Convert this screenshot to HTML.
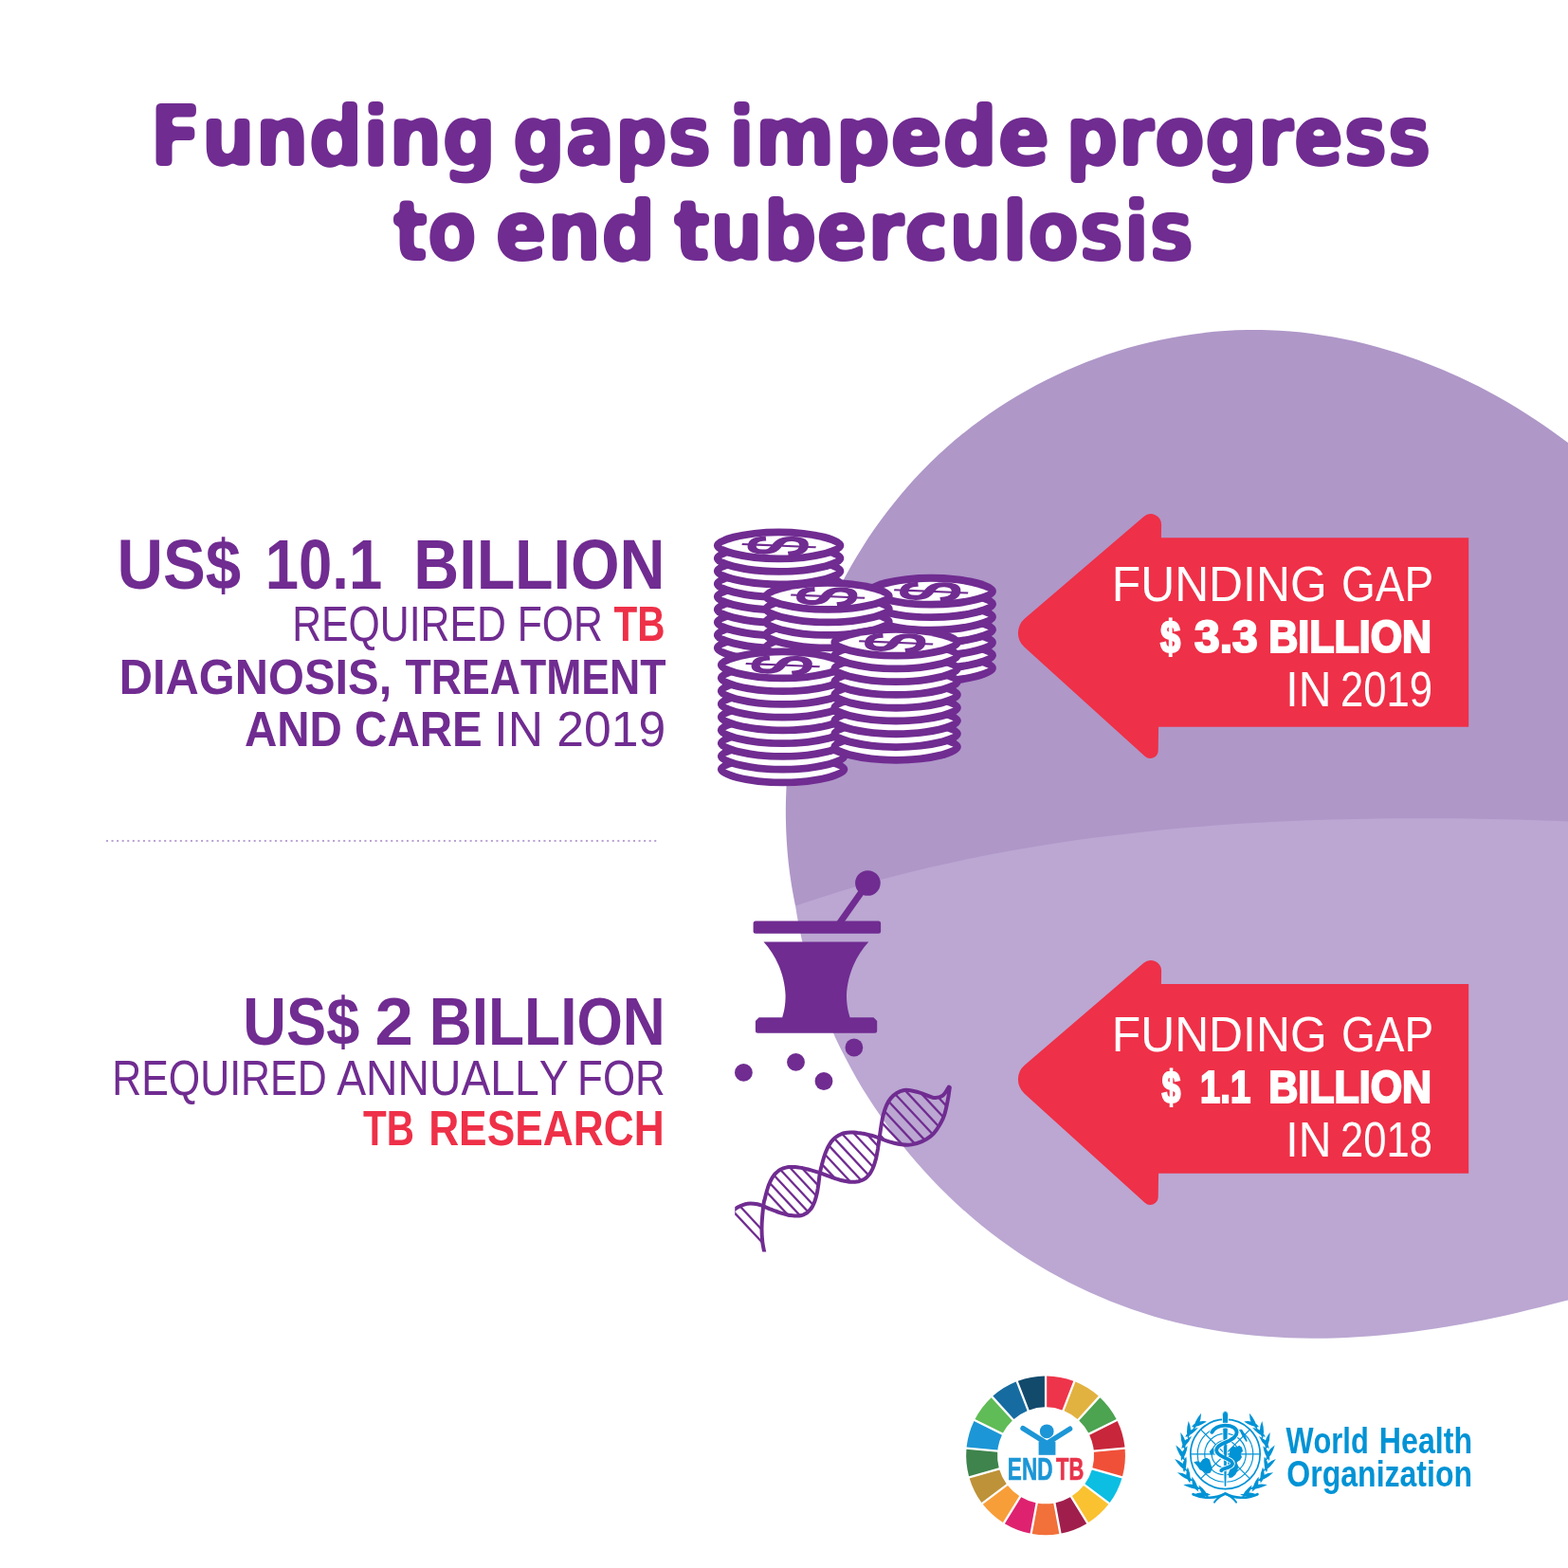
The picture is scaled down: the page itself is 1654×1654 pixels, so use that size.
<!DOCTYPE html>
<html lang="en"><head><meta charset="utf-8"><title>Funding gaps impede progress to end tuberculosis</title>
<style>html,body{margin:0;padding:0;background:#fff;width:1654px;height:1654px;overflow:hidden}svg{display:block}text{font-kerning:none;white-space:pre}</style></head><body>
<svg width="1654" height="1654" viewBox="0 0 1654 1654">
<rect width="1654" height="1654" fill="#fff"/>
<path d="M839.0 955.5C838.3 951.7 836.0 940.4 834.8 932.8C833.6 925.2 832.6 917.5 831.7 909.9C830.9 902.2 830.2 894.5 829.8 886.9C829.3 879.2 829.0 871.5 828.9 863.8C828.8 856.1 828.8 848.4 829.1 840.7C829.3 833.0 829.7 825.2 830.3 817.6C830.9 809.9 831.7 802.2 832.6 794.5C833.5 786.9 834.6 779.2 835.9 771.6C837.2 764.0 838.6 756.4 840.2 748.9C841.8 741.3 843.6 733.8 845.5 726.3C847.5 718.8 849.6 711.4 851.8 704.0C854.1 696.6 856.5 689.2 859.1 682.0C861.6 674.7 864.4 667.4 867.3 660.3C870.2 653.1 873.2 646.0 876.4 639.0C879.6 632.0 883.0 625.0 886.5 618.1C890.0 611.2 893.6 604.4 897.4 597.7C901.2 591.0 905.2 584.4 909.3 577.9C913.4 571.3 917.6 564.9 922.0 558.6C926.4 552.2 930.9 546.0 935.6 539.9C940.3 533.8 945.1 527.8 950.0 521.9C955.0 516.0 960.0 510.2 965.3 504.5C970.5 498.9 975.8 493.4 981.3 488.0C986.8 482.6 992.4 477.3 998.2 472.2C1003.9 467.1 1009.8 462.1 1015.8 457.3C1021.8 452.4 1027.9 447.7 1034.2 443.2C1040.4 438.6 1046.7 434.2 1053.2 430.0C1059.6 425.7 1066.2 421.6 1072.8 417.7C1079.5 413.8 1086.2 410.0 1093.1 406.3C1099.9 402.7 1106.8 399.2 1113.8 395.9C1120.8 392.6 1127.9 389.4 1135.0 386.5C1142.1 383.5 1149.3 380.6 1156.6 378.0C1163.9 375.3 1171.2 372.8 1178.6 370.5C1186.0 368.2 1193.4 366.1 1200.9 364.1C1208.3 362.1 1215.9 360.3 1223.4 358.7C1231.0 357.1 1238.5 355.6 1246.1 354.4C1253.8 353.1 1261.4 352.1 1269.0 351.2C1276.7 350.3 1284.4 349.6 1292.0 349.1C1299.7 348.6 1307.4 348.2 1315.1 348.1C1322.7 348.0 1330.4 348.0 1338.1 348.3C1345.8 348.5 1353.4 349.0 1361.1 349.6C1368.7 350.2 1376.4 351.0 1384.0 352.0C1391.6 353.0 1399.2 354.2 1406.8 355.5C1414.3 356.9 1421.9 358.4 1429.4 360.1C1436.9 361.8 1444.4 363.6 1451.8 365.7C1459.2 367.7 1466.6 369.9 1474.0 372.2C1481.3 374.6 1488.7 377.1 1495.9 379.7C1503.2 382.4 1510.4 385.2 1517.5 388.2C1524.7 391.1 1531.8 394.2 1538.8 397.5C1545.8 400.7 1552.8 404.1 1559.7 407.6C1566.6 411.1 1573.4 414.8 1580.1 418.6C1586.9 422.4 1593.6 426.3 1600.2 430.3C1606.8 434.4 1613.3 438.5 1619.7 442.8C1626.2 447.1 1632.6 451.5 1638.9 455.9C1645.2 460.4 1651.4 465.0 1657.6 469.6C1663.8 474.3 1669.9 479.1 1675.9 483.9C1681.9 488.7 1687.9 493.6 1693.8 498.6C1699.7 503.6 1705.5 508.6 1711.2 513.7C1717.0 518.8 1722.6 524.0 1728.2 529.2C1733.8 534.4 1742.1 542.3 1744.9 544.9L1745 905L1100 945L847.0 957.5Z" fill="#af97c8"/>
<path d="M839.0 955.5C846.6 953.0 869.4 945.4 884.7 940.7C900.0 936.0 915.4 931.6 930.8 927.5C946.2 923.3 961.7 919.4 977.2 915.7C992.8 912.1 1008.4 908.6 1024.0 905.4C1039.6 902.2 1055.3 899.2 1071.0 896.4C1086.7 893.7 1102.4 891.1 1118.2 888.7C1134.0 886.3 1149.8 884.2 1165.6 882.2C1181.5 880.2 1197.3 878.4 1213.2 876.7C1229.1 875.1 1245.0 873.6 1261.0 872.3C1276.9 871.0 1292.8 869.9 1308.8 868.8C1324.8 867.8 1340.7 867.0 1356.7 866.2C1372.7 865.5 1388.7 864.9 1404.7 864.5C1420.7 864.0 1436.7 863.7 1452.7 863.4C1468.7 863.2 1484.7 863.1 1500.7 863.2C1516.7 863.2 1532.7 863.3 1548.6 863.5C1564.6 863.8 1580.6 864.1 1596.6 864.6C1612.5 865.0 1628.5 865.5 1644.4 866.1C1660.4 866.8 1676.3 867.5 1692.2 868.3C1708.1 869.0 1731.9 870.4 1739.8 870.9L1739.4 1346.3C1735.7 1347.5 1724.4 1351.0 1716.8 1353.3C1709.3 1355.6 1701.7 1357.9 1694.0 1360.1C1686.4 1362.4 1678.7 1364.6 1670.9 1366.7C1663.2 1368.9 1655.5 1371.0 1647.7 1373.1C1639.9 1375.1 1632.1 1377.1 1624.2 1379.1C1616.4 1381.0 1608.5 1382.9 1600.6 1384.7C1592.7 1386.6 1584.8 1388.3 1576.9 1390.0C1568.9 1391.7 1561.0 1393.3 1553.0 1394.8C1545.0 1396.3 1537.0 1397.7 1529.0 1399.1C1521.0 1400.4 1512.9 1401.7 1504.9 1402.8C1496.9 1404.0 1488.8 1405.0 1480.7 1406.0C1472.7 1406.9 1464.6 1407.8 1456.5 1408.5C1448.4 1409.2 1440.3 1409.8 1432.2 1410.3C1424.2 1410.8 1416.1 1411.2 1408.0 1411.4C1399.9 1411.7 1391.8 1411.8 1383.7 1411.7C1375.6 1411.7 1367.5 1411.5 1359.4 1411.2C1351.3 1410.9 1343.3 1410.4 1335.2 1409.8C1327.2 1409.2 1319.1 1408.4 1311.1 1407.5C1303.1 1406.6 1295.1 1405.5 1287.2 1404.3C1279.2 1403.0 1271.3 1401.6 1263.4 1400.0C1255.5 1398.4 1247.6 1396.7 1239.8 1394.8C1232.0 1392.8 1224.3 1390.7 1216.6 1388.4C1208.9 1386.1 1201.2 1383.7 1193.6 1381.0C1186.0 1378.4 1178.5 1375.6 1171.0 1372.6C1163.6 1369.6 1156.2 1366.4 1148.9 1363.1C1141.5 1359.8 1134.3 1356.2 1127.1 1352.6C1120.0 1348.9 1112.9 1345.1 1105.9 1341.1C1098.9 1337.1 1092.0 1332.9 1085.2 1328.6C1078.4 1324.3 1071.7 1319.8 1065.1 1315.1C1058.5 1310.5 1052.0 1305.7 1045.6 1300.7C1039.2 1295.8 1033.0 1290.7 1026.8 1285.5C1020.6 1280.3 1014.6 1274.9 1008.6 1269.4C1002.7 1263.9 996.9 1258.2 991.2 1252.5C985.5 1246.7 979.9 1240.8 974.5 1234.8C969.1 1228.8 963.8 1222.7 958.6 1216.5C953.4 1210.2 948.4 1203.9 943.5 1197.5C938.6 1191.0 933.8 1184.5 929.2 1177.8C924.5 1171.2 920.1 1164.4 915.7 1157.6C911.4 1150.8 907.2 1143.9 903.2 1136.9C899.2 1129.9 895.3 1122.8 891.6 1115.6C887.9 1108.4 884.3 1101.2 880.9 1093.9C877.5 1086.5 874.3 1079.1 871.3 1071.7C868.2 1064.2 865.3 1056.7 862.6 1049.1C859.9 1041.5 857.4 1033.9 855.1 1026.2C852.7 1018.5 850.6 1010.7 848.6 1002.9C846.6 995.1 844.8 987.2 843.2 979.3C841.6 971.4 839.7 959.5 839.0 955.5Z" fill="#bba7d2"/>
<defs><filter id="rnd" x="-5%" y="-20%" width="110%" height="140%" color-interpolation-filters="sRGB"><feGaussianBlur in="SourceAlpha" stdDeviation="2.4" result="b"/><feComponentTransfer in="b" result="t"><feFuncA type="linear" slope="7" intercept="-3"/></feComponentTransfer><feFlood flood-color="#702c91"/><feComposite operator="in" in2="t"/></filter></defs>
<g filter="url(#rnd)">
<text transform="translate(158.21 173.60) scale(1.0045 1)" font-family="DejaVu Sans Condensed, sans-serif" font-weight="bold" font-size="88" fill="#702c91" stroke="#702c91" stroke-width="2.0" stroke-linejoin="round">Funding</text>
<text transform="translate(540.70 173.60) scale(0.9802 1)" font-family="DejaVu Sans Condensed, sans-serif" font-weight="bold" font-size="88" fill="#702c91" stroke="#702c91" stroke-width="2.0" stroke-linejoin="round">gaps</text>
<text transform="translate(768.46 173.60) scale(1.0266 1)" font-family="DejaVu Sans Condensed, sans-serif" font-weight="bold" font-size="88" fill="#702c91" stroke="#702c91" stroke-width="2.0" stroke-linejoin="round">impede</text>
<text transform="translate(1124.08 173.60) scale(0.9790 1)" font-family="DejaVu Sans Condensed, sans-serif" font-weight="bold" font-size="88" fill="#702c91" stroke="#702c91" stroke-width="2.0" stroke-linejoin="round">progress</text>
<text transform="translate(415.02 273.90) scale(0.9519 1)" font-family="DejaVu Sans Condensed, sans-serif" font-weight="bold" font-size="88" fill="#702c91" stroke="#702c91" stroke-width="2.0" stroke-linejoin="round">to</text>
<text transform="translate(522.45 273.90) scale(1.0163 1)" font-family="DejaVu Sans Condensed, sans-serif" font-weight="bold" font-size="88" fill="#702c91" stroke="#702c91" stroke-width="2.0" stroke-linejoin="round">end</text>
<text transform="translate(711.07 273.90) scale(0.9972 1)" font-family="DejaVu Sans Condensed, sans-serif" font-weight="bold" font-size="88" fill="#702c91" stroke="#702c91" stroke-width="2.0" stroke-linejoin="round">tuberculosis</text>
</g>
<text transform="translate(123.57 620.80) scale(0.9017 1)" font-family="Liberation Sans, sans-serif" font-weight="bold" font-size="74.5" fill="#702c91" >US$</text>
<text transform="translate(279.70 620.80) scale(0.8522 1)" font-family="Liberation Sans, sans-serif" font-weight="bold" font-size="74.5" fill="#702c91" >10.1</text>
<text transform="translate(436.37 620.80) scale(0.8897 1)" font-family="Liberation Sans, sans-serif" font-weight="bold" font-size="74.5" fill="#702c91" >BILLION</text>
<text transform="translate(308.19 676.40) scale(0.8286 1)" font-family="Liberation Sans, sans-serif" font-weight="normal" font-size="51.6" fill="#702c91" >REQUIRED FOR</text>
<text transform="translate(647.55 676.40) scale(0.7850 1)" font-family="Liberation Sans, sans-serif" font-weight="bold" font-size="51.6" fill="#ee3048" >TB</text>
<text transform="translate(125.73 731.70) scale(0.9461 1)" font-family="Liberation Sans, sans-serif" font-weight="bold" font-size="51.6" fill="#702c91" >DIAGNOSIS,</text>
<text transform="translate(427.60 731.70) scale(0.8639 1)" font-family="Liberation Sans, sans-serif" font-weight="bold" font-size="51.6" fill="#702c91" >TREATMENT</text>
<text transform="translate(257.92 787.40) scale(0.9214 1)" font-family="Liberation Sans, sans-serif" font-weight="bold" font-size="51.6" fill="#702c91" >AND CARE</text>
<text transform="translate(521.34 787.40) scale(1.0005 1)" font-family="Liberation Sans, sans-serif" font-weight="normal" font-size="51.6" fill="#702c91" >IN 2019</text>
<line x1="112" y1="887" x2="694" y2="887" stroke="#b9a2d4" stroke-width="2" stroke-dasharray="2 3.56"/>
<text transform="translate(256.20 1101.90) scale(0.9113 1)" font-family="Liberation Sans, sans-serif" font-weight="bold" font-size="69.5" fill="#702c91" >US$</text>
<text transform="translate(395.48 1101.90) scale(1.0460 1)" font-family="Liberation Sans, sans-serif" font-weight="bold" font-size="69.5" fill="#702c91" >2</text>
<text transform="translate(452.83 1101.90) scale(0.8960 1)" font-family="Liberation Sans, sans-serif" font-weight="bold" font-size="69.5" fill="#702c91" >BILLION</text>
<text transform="translate(118.28 1154.80) scale(0.8311 1)" font-family="Liberation Sans, sans-serif" font-weight="normal" font-size="51.6" fill="#702c91" >REQUIRED</text>
<text transform="translate(355.21 1154.80) scale(0.8975 1)" font-family="Liberation Sans, sans-serif" font-weight="normal" font-size="51.6" fill="#702c91" >ANNUALLY</text>
<text transform="translate(609.10 1154.80) scale(0.8505 1)" font-family="Liberation Sans, sans-serif" font-weight="normal" font-size="51.6" fill="#702c91" >FOR</text>
<text transform="translate(382.95 1207.80) scale(0.7850 1)" font-family="Liberation Sans, sans-serif" font-weight="bold" font-size="51.6" fill="#ee3048" >TB</text>
<text transform="translate(452.14 1207.80) scale(0.8583 1)" font-family="Liberation Sans, sans-serif" font-weight="bold" font-size="51.6" fill="#ee3048" >RESEARCH</text>
<path d="M1080.48 682.56A20.00 20.00 0 0 1 1080.89 652.55L1206.43 544.92A11.30 11.30 0 0 1 1225.09 553.66L1224.90 567.20L1549.20 567.20L1549.20 766.80L1222.08 766.80L1221.73 791.69A8.40 8.40 0 0 1 1207.69 797.80Z" fill="#ee3048"/>
<path d="M1080.48 1153.41A20.00 20.00 0 0 1 1080.89 1123.40L1206.43 1015.77A11.30 11.30 0 0 1 1225.09 1024.51L1224.90 1038.05L1549.20 1038.05L1549.20 1237.65L1222.08 1237.65L1221.73 1262.54A8.40 8.40 0 0 1 1207.69 1268.65Z" fill="#ee3048"/>
<text transform="translate(1172.71 633.70) scale(0.9658 1)" font-family="Liberation Sans, sans-serif" font-weight="normal" font-size="51.6" fill="#ffffff" >FUNDING</text>
<text transform="translate(1414.99 633.70) scale(0.8914 1)" font-family="Liberation Sans, sans-serif" font-weight="normal" font-size="51.6" fill="#ffffff" >GAP</text>
<text transform="translate(1223.90 687.90) scale(0.7860 1)" font-family="Liberation Sans, sans-serif" font-weight="bold" font-size="48.6" fill="#ffffff" stroke="#fff" stroke-width="2.2" stroke-linejoin="miter">$</text>
<text transform="translate(1260.00 687.90) scale(0.9863 1)" font-family="Liberation Sans, sans-serif" font-weight="bold" font-size="48.6" fill="#ffffff" stroke="#fff" stroke-width="2.2" stroke-linejoin="miter">3.3</text>
<text transform="translate(1338.33 687.90) scale(0.8842 1)" font-family="Liberation Sans, sans-serif" font-weight="bold" font-size="48.6" fill="#ffffff" stroke="#fff" stroke-width="2.2" stroke-linejoin="miter">BILLION</text>
<text transform="translate(1356.25 745.10) scale(0.9336 1)" font-family="Liberation Sans, sans-serif" font-weight="normal" font-size="51.6" fill="#ffffff" >IN</text>
<text transform="translate(1414.00 745.10) scale(0.8465 1)" font-family="Liberation Sans, sans-serif" font-weight="normal" font-size="51.6" fill="#ffffff" >2019</text>
<text transform="translate(1172.71 1108.70) scale(0.9658 1)" font-family="Liberation Sans, sans-serif" font-weight="normal" font-size="51.6" fill="#ffffff" >FUNDING</text>
<text transform="translate(1414.99 1108.70) scale(0.8914 1)" font-family="Liberation Sans, sans-serif" font-weight="normal" font-size="51.6" fill="#ffffff" >GAP</text>
<text transform="translate(1225.53 1162.90) scale(0.7354 1)" font-family="Liberation Sans, sans-serif" font-weight="bold" font-size="48.6" fill="#ffffff" stroke="#fff" stroke-width="2.2" stroke-linejoin="miter">$</text>
<text transform="translate(1266.09 1162.90) scale(0.7871 1)" font-family="Liberation Sans, sans-serif" font-weight="bold" font-size="48.6" fill="#ffffff" stroke="#fff" stroke-width="2.2" stroke-linejoin="miter">1.1</text>
<text transform="translate(1338.33 1162.90) scale(0.8842 1)" font-family="Liberation Sans, sans-serif" font-weight="bold" font-size="48.6" fill="#ffffff" stroke="#fff" stroke-width="2.2" stroke-linejoin="miter">BILLION</text>
<text transform="translate(1356.25 1220.10) scale(0.9336 1)" font-family="Liberation Sans, sans-serif" font-weight="normal" font-size="51.6" fill="#ffffff" >IN</text>
<text transform="translate(1414.01 1220.10) scale(0.8449 1)" font-family="Liberation Sans, sans-serif" font-weight="normal" font-size="51.6" fill="#ffffff" >2018</text>
<defs><g id="coin"><ellipse cx="0" cy="0" rx="68.7" ry="17.85" fill="#702c91"/><path d="M-60.5 0C-32 -13.4 32 -13.4 60.5 0C32 13.4 -32 13.4 -60.5 0Z" fill="#fff"/></g></defs>
<use href="#coin" x="821.6" y="683.40"/><use href="#coin" x="821.6" y="669.90"/><use href="#coin" x="821.6" y="656.40"/><use href="#coin" x="821.6" y="642.90"/><use href="#coin" x="821.6" y="629.40"/><use href="#coin" x="821.6" y="615.90"/><use href="#coin" x="821.6" y="602.40"/><use href="#coin" x="821.6" y="588.90"/><use href="#coin" x="821.6" y="575.40"/><text transform="translate(821.6 575.7) scale(1 0.41) rotate(-84)" x="0" y="32.1" text-anchor="middle" font-family="Liberation Sans, sans-serif" font-weight="bold" font-size="96" fill="#702c91">$</text>
<use href="#coin" x="982.2" y="704.70"/><use href="#coin" x="982.2" y="691.20"/><use href="#coin" x="982.2" y="677.70"/><use href="#coin" x="982.2" y="664.20"/><use href="#coin" x="982.2" y="650.70"/><use href="#coin" x="982.2" y="637.20"/><use href="#coin" x="982.2" y="623.70"/><text transform="translate(982.2 624.0) scale(1 0.41) rotate(-84)" x="0" y="32.1" text-anchor="middle" font-family="Liberation Sans, sans-serif" font-weight="bold" font-size="96" fill="#702c91">$</text>
<use href="#coin" x="873.0" y="696.40"/><use href="#coin" x="873.0" y="682.90"/><use href="#coin" x="873.0" y="669.40"/><use href="#coin" x="873.0" y="655.90"/><use href="#coin" x="873.0" y="642.40"/><use href="#coin" x="873.0" y="628.90"/><text transform="translate(873.0 629.2) scale(1 0.41) rotate(-84)" x="0" y="32.1" text-anchor="middle" font-family="Liberation Sans, sans-serif" font-weight="bold" font-size="96" fill="#702c91">$</text>
<use href="#coin" x="825.6" y="811.48"/><use href="#coin" x="825.6" y="797.72"/><use href="#coin" x="825.6" y="783.96"/><use href="#coin" x="825.6" y="770.20"/><use href="#coin" x="825.6" y="756.44"/><use href="#coin" x="825.6" y="742.68"/><use href="#coin" x="825.6" y="728.92"/><use href="#coin" x="825.6" y="715.16"/><use href="#coin" x="825.6" y="701.40"/><text transform="translate(825.6 701.7) scale(1 0.41) rotate(-84)" x="0" y="32.1" text-anchor="middle" font-family="Liberation Sans, sans-serif" font-weight="bold" font-size="96" fill="#702c91">$</text>
<use href="#coin" x="945.1" y="787.86"/><use href="#coin" x="945.1" y="774.09"/><use href="#coin" x="945.1" y="760.32"/><use href="#coin" x="945.1" y="746.55"/><use href="#coin" x="945.1" y="732.78"/><use href="#coin" x="945.1" y="719.01"/><use href="#coin" x="945.1" y="705.24"/><use href="#coin" x="945.1" y="691.47"/><use href="#coin" x="945.1" y="677.70"/><text transform="translate(945.1 678.0) scale(1 0.41) rotate(-84)" x="0" y="32.1" text-anchor="middle" font-family="Liberation Sans, sans-serif" font-weight="bold" font-size="96" fill="#702c91">$</text>
<g fill="#702c91">
<circle cx="915.4" cy="931.5" r="13.3"/>
<line x1="915.4" y1="931.5" x2="884" y2="976" stroke="#702c91" stroke-width="6.8"/>
<rect x="794.6" y="971.5" width="134.5" height="13.3" rx="2.5"/>
<path d="M805.5 993.4L916.3 993.4C902.5 1008 893.6 1030 893 1050C893 1060 894.6 1067 896.6 1073.2L921.5 1073.2L925.2 1077L925.2 1087.3Q925.2 1089.8 922.7 1089.8L799.4 1089.8Q796.9 1089.8 796.9 1087.3L796.9 1077L800.6 1073.2L825.2 1073.2C827.2 1067 828.6 1060 828.6 1050C828 1030 819.2 1008 805.5 993.4Z"/>
<circle cx="900.9" cy="1105" r="9.4"/>
<circle cx="839.5" cy="1120.4" r="9.4"/>
<circle cx="784.4" cy="1131.4" r="9.4"/>
<circle cx="869" cy="1140.5" r="9.4"/>
</g>
<defs><clipPath id="dc"><rect x="775.2" y="1100" width="300" height="220.5"/></clipPath></defs>
<g clip-path="url(#dc)"><path d="M1001.8 1147.3C1001.4 1149.7 1000.8 1155.9 999.6 1161.4C998.4 1166.9 997.5 1174.1 994.5 1180.3C991.5 1186.5 987.4 1193.9 981.9 1198.4C976.4 1202.9 968.2 1206.2 961.5 1207.4C954.8 1208.6 948.1 1206.8 941.5 1205.3C934.9 1203.8 925.7 1199.7 921.6 1198.4C917.6 1197.1 918.7 1197.6 917.3 1197.3C915.9 1196.9 914.4 1196.6 913.0 1196.3C911.6 1196.0 910.2 1195.7 908.9 1195.5C907.5 1195.2 906.1 1195.0 904.8 1194.9C903.5 1194.7 902.2 1194.6 900.9 1194.5C899.7 1194.4 898.4 1194.4 897.2 1194.4C896.0 1194.5 894.8 1194.6 893.7 1194.7C892.5 1194.9 891.4 1195.1 890.4 1195.3C889.3 1195.6 888.3 1195.9 887.3 1196.3C886.3 1196.7 885.3 1197.2 884.4 1197.7C883.5 1198.2 882.6 1198.8 881.7 1199.5C880.9 1200.1 880.1 1200.8 879.3 1201.6C878.6 1202.4 877.8 1203.2 877.1 1204.1C876.4 1205.0 875.8 1206.0 875.1 1207.0C874.5 1208.0 873.9 1209.1 873.3 1210.2C872.8 1211.3 872.2 1212.5 871.7 1213.7C871.2 1214.9 870.7 1216.2 870.2 1217.5C869.8 1218.8 869.3 1220.1 868.9 1221.5C868.5 1222.8 868.1 1224.2 867.7 1225.7C867.3 1227.1 866.9 1228.5 866.6 1230.0C866.2 1231.4 865.8 1232.9 865.5 1234.4C865.1 1235.9 864.8 1237.4 864.6 1239.0C864.3 1240.6 864.2 1242.4 864.0 1244.0C863.8 1245.6 863.6 1247.3 863.4 1248.9C863.2 1250.5 862.9 1252.1 862.7 1253.6C862.4 1255.2 862.2 1256.7 861.9 1258.1C861.6 1259.6 861.2 1261.0 860.9 1262.4C860.5 1263.8 860.1 1265.1 859.7 1266.3C859.3 1267.6 858.8 1268.8 858.3 1269.9C857.8 1271.0 857.3 1272.1 856.7 1273.1C856.1 1274.1 855.5 1275.0 854.8 1275.8C854.1 1276.7 853.4 1277.4 852.6 1278.1C851.9 1278.8 851.1 1279.4 850.2 1279.9C849.4 1280.5 848.5 1280.9 847.5 1281.3C846.6 1281.6 845.6 1281.9 844.5 1282.2C843.5 1282.4 842.4 1282.5 841.3 1282.6C840.1 1282.6 839.0 1282.6 837.8 1282.5C836.6 1282.5 835.3 1282.3 834.0 1282.1C832.7 1281.9 831.4 1281.6 830.0 1281.3C828.7 1281.0 827.3 1280.6 825.9 1280.2C824.5 1279.8 823.0 1279.3 821.6 1278.8C820.1 1278.3 818.6 1277.7 817.1 1277.2C815.6 1276.6 813.7 1275.8 812.5 1275.4C811.4 1274.9 812.3 1275.3 810.1 1274.5C807.9 1273.6 802.8 1271.1 799.1 1270.3C795.4 1269.5 791.4 1269.2 788.1 1269.7C784.8 1270.1 781.9 1271.6 779.1 1273.1C776.3 1274.6 772.4 1277.8 771.1 1278.8" fill="none" stroke="#702c91" stroke-width="4.0" stroke-linecap="round" stroke-linejoin="round"/><path d="M1000.8 1146.5C999.8 1148.0 997.1 1153.7 994.5 1155.6C991.9 1157.5 989.3 1158.5 985.1 1158.0C980.9 1157.5 974.6 1153.7 969.4 1152.4C964.1 1151.1 958.6 1149.0 953.6 1150.0C948.6 1151.0 943.2 1154.2 939.5 1158.6C935.8 1163.0 933.7 1168.4 931.6 1176.5C929.5 1184.6 927.7 1201.1 926.7 1207.0C925.8 1213.0 926.2 1210.4 926.0 1212.0C925.7 1213.6 925.4 1215.2 925.1 1216.8C924.8 1218.4 924.5 1219.9 924.2 1221.4C923.8 1222.9 923.4 1224.4 923.0 1225.8C922.6 1227.2 922.2 1228.5 921.7 1229.8C921.2 1231.1 920.7 1232.3 920.2 1233.4C919.6 1234.6 919.0 1235.7 918.4 1236.7C917.8 1237.7 917.1 1238.7 916.4 1239.5C915.7 1240.4 914.9 1241.2 914.1 1241.9C913.3 1242.6 912.4 1243.2 911.5 1243.8C910.6 1244.4 909.7 1244.8 908.7 1245.2C907.7 1245.6 906.7 1245.9 905.6 1246.2C904.5 1246.4 903.4 1246.6 902.2 1246.7C901.0 1246.8 899.8 1246.8 898.5 1246.8C897.3 1246.7 896.0 1246.6 894.7 1246.4C893.3 1246.2 892.0 1246.0 890.6 1245.7C889.2 1245.4 887.7 1245.0 886.3 1244.7C884.8 1244.3 883.3 1243.8 881.8 1243.3C880.3 1242.8 878.7 1242.3 877.2 1241.8C875.6 1241.2 874.1 1240.7 872.5 1240.1C870.9 1239.5 869.3 1238.8 867.7 1238.2C866.2 1237.7 864.6 1237.1 863.2 1236.6C861.7 1236.1 860.3 1235.7 858.9 1235.3C857.5 1234.9 856.1 1234.5 854.7 1234.1C853.3 1233.7 851.9 1233.4 850.6 1233.1C849.2 1232.7 847.9 1232.4 846.5 1232.1C845.2 1231.9 843.9 1231.6 842.6 1231.5C841.4 1231.3 840.1 1231.1 838.9 1231.0C837.7 1230.9 836.5 1230.9 835.3 1230.9C834.2 1230.9 833.0 1231.0 831.9 1231.1C830.8 1231.2 829.8 1231.4 828.8 1231.6C827.7 1231.9 826.7 1232.2 825.8 1232.5C824.8 1232.9 823.9 1233.3 823.1 1233.8C822.2 1234.3 821.3 1234.9 820.6 1235.5C819.8 1236.1 819.0 1236.8 818.3 1237.6C817.5 1238.3 816.9 1239.1 816.2 1240.0C815.5 1240.9 814.9 1241.8 814.3 1242.8C813.8 1243.8 813.2 1244.8 812.7 1245.9C812.2 1247.0 811.7 1248.2 811.2 1249.4C810.7 1250.5 810.3 1251.8 809.9 1253.0C809.5 1254.3 809.1 1255.6 808.7 1257.0C808.3 1258.3 808.0 1259.7 807.6 1261.1C807.3 1262.5 806.9 1264.0 806.6 1265.3C806.3 1266.6 806.1 1265.9 805.7 1268.8C805.3 1271.6 804.6 1277.7 804.2 1282.3C803.8 1286.9 803.5 1291.6 803.5 1296.3C803.5 1300.9 803.8 1305.9 804.3 1310.3C804.8 1314.6 806.2 1320.3 806.6 1322.3" fill="none" stroke="#702c91" stroke-width="4.0" stroke-linecap="round" stroke-linejoin="round"/><line x1="998.5" y1="1166.9" x2="990.0" y2="1157.8" stroke="#702c91" stroke-width="2.3"/><line x1="995.2" y1="1178.5" x2="971.5" y2="1153.1" stroke="#702c91" stroke-width="2.3"/><line x1="990.2" y1="1188.2" x2="954.5" y2="1149.9" stroke="#702c91" stroke-width="2.3"/><line x1="983.9" y1="1196.5" x2="944.4" y2="1154.2" stroke="#702c91" stroke-width="2.3"/><line x1="975.5" y1="1202.6" x2="937.3" y2="1161.7" stroke="#702c91" stroke-width="2.3"/><line x1="965.1" y1="1206.6" x2="932.9" y2="1172.0" stroke="#702c91" stroke-width="2.3"/><line x1="951.8" y1="1207.4" x2="930.1" y2="1184.1" stroke="#702c91" stroke-width="2.3"/><line x1="933.4" y1="1202.8" x2="928.1" y2="1197.1" stroke="#702c91" stroke-width="2.3"/><line x1="914.6" y1="1196.6" x2="926.4" y2="1209.3" stroke="#702c91" stroke-width="2.3"/><line x1="899.7" y1="1194.5" x2="924.3" y2="1220.8" stroke="#702c91" stroke-width="2.3"/><line x1="888.3" y1="1196.0" x2="921.2" y2="1231.2" stroke="#702c91" stroke-width="2.3"/><line x1="880.1" y1="1200.9" x2="916.3" y2="1239.7" stroke="#702c91" stroke-width="2.3"/><line x1="874.3" y1="1208.4" x2="908.6" y2="1245.3" stroke="#702c91" stroke-width="2.3"/><line x1="870.2" y1="1217.7" x2="897.2" y2="1246.7" stroke="#702c91" stroke-width="2.3"/><line x1="867.0" y1="1228.1" x2="881.0" y2="1243.1" stroke="#702c91" stroke-width="2.3"/><line x1="863.2" y1="1250.6" x2="845.8" y2="1232.0" stroke="#702c91" stroke-width="2.3"/><line x1="861.1" y1="1261.5" x2="832.7" y2="1231.0" stroke="#702c91" stroke-width="2.3"/><line x1="857.8" y1="1271.0" x2="823.1" y2="1233.8" stroke="#702c91" stroke-width="2.3"/><line x1="852.4" y1="1278.3" x2="816.5" y2="1239.7" stroke="#702c91" stroke-width="2.3"/><line x1="844.0" y1="1282.3" x2="811.8" y2="1247.8" stroke="#702c91" stroke-width="2.3"/><line x1="831.2" y1="1281.6" x2="808.6" y2="1257.3" stroke="#702c91" stroke-width="2.3"/><line x1="780.5" y1="1272.3" x2="803.5" y2="1297.0" stroke="#702c91" stroke-width="2.3"/><line x1="773.0" y1="1277.3" x2="804.4" y2="1311.0" stroke="#702c91" stroke-width="2.3"/></g>
<path d="M1104.20 1451.46A83.9 83.9 0 0 1 1132.28 1456.71L1120.40 1487.39A51.0 51.0 0 0 0 1104.20 1484.36Z" fill="#ee344a"/><path d="M1134.43 1457.54A83.9 83.9 0 0 1 1158.72 1472.58L1136.55 1496.90A51.0 51.0 0 0 0 1122.54 1488.22Z" fill="#e2b240"/><path d="M1160.42 1474.13A83.9 83.9 0 0 1 1177.63 1496.93L1148.18 1511.59A51.0 51.0 0 0 0 1138.25 1498.44Z" fill="#4ca350"/><path d="M1178.66 1498.99A83.9 83.9 0 0 1 1186.48 1526.46L1153.71 1529.50A51.0 51.0 0 0 0 1149.20 1513.65Z" fill="#c8263a"/><path d="M1186.69 1528.75A83.9 83.9 0 0 1 1184.05 1557.20L1152.41 1548.20A51.0 51.0 0 0 0 1153.93 1531.79Z" fill="#f05038"/><path d="M1183.42 1559.41A83.9 83.9 0 0 1 1170.69 1584.99L1144.43 1565.16A51.0 51.0 0 0 0 1151.78 1550.41Z" fill="#0cbee2"/><path d="M1169.30 1586.82A83.9 83.9 0 0 1 1148.19 1606.07L1130.87 1578.09A51.0 51.0 0 0 0 1143.05 1566.99Z" fill="#fac230"/><path d="M1146.24 1607.28A83.9 83.9 0 0 1 1119.60 1617.60L1113.55 1585.26A51.0 51.0 0 0 0 1128.91 1579.31Z" fill="#a01e4c"/><path d="M1117.33 1618.03A83.9 83.9 0 0 1 1088.77 1618.03L1094.81 1585.68A51.0 51.0 0 0 0 1111.29 1585.68Z" fill="#f2703a"/><path d="M1086.50 1617.60A83.9 83.9 0 0 1 1059.86 1607.28L1077.19 1579.31A51.0 51.0 0 0 0 1092.55 1585.26Z" fill="#de2270"/><path d="M1057.91 1606.07A83.9 83.9 0 0 1 1036.80 1586.82L1063.05 1566.99A51.0 51.0 0 0 0 1075.23 1578.09Z" fill="#f89e38"/><path d="M1035.41 1584.99A83.9 83.9 0 0 1 1022.68 1559.41L1054.32 1550.41A51.0 51.0 0 0 0 1061.67 1565.16Z" fill="#be9238"/><path d="M1022.05 1557.20A83.9 83.9 0 0 1 1019.41 1528.75L1052.17 1531.79A51.0 51.0 0 0 0 1053.69 1548.20Z" fill="#3e844c"/><path d="M1019.62 1526.46A83.9 83.9 0 0 1 1027.44 1498.99L1056.90 1513.65A51.0 51.0 0 0 0 1052.39 1529.50Z" fill="#1c96d6"/><path d="M1028.47 1496.93A83.9 83.9 0 0 1 1045.68 1474.13L1067.85 1498.44A51.0 51.0 0 0 0 1057.92 1511.59Z" fill="#60bc56"/><path d="M1047.38 1472.58A83.9 83.9 0 0 1 1071.67 1457.54L1083.56 1488.22A51.0 51.0 0 0 0 1069.55 1496.90Z" fill="#166ca0"/><path d="M1073.82 1456.71A83.9 83.9 0 0 1 1101.90 1451.46L1101.90 1484.36A51.0 51.0 0 0 0 1085.70 1487.39Z" fill="#124a6c"/>
<g fill="#1c96d6" stroke="#1c96d6">
<circle cx="1104.2" cy="1509.8" r="7.4" stroke="none"/>
<path d="M1079 1506.6L1104.3 1522.5L1128.6 1507.2" fill="none" stroke-width="5.4" stroke-linecap="round" stroke-linejoin="round"/>
<rect x="1095.6" y="1520.5" width="17.8" height="14.3" stroke="none"/>
</g>
<text transform="translate(1062.84 1560.60) scale(0.6924 1)" font-family="Liberation Sans, sans-serif" font-weight="bold" font-size="32.6" fill="#1c96d6" stroke="#1c96d6" stroke-width="0.7">END</text>
<text transform="translate(1114.10 1560.60) scale(0.6729 1)" font-family="Liberation Sans, sans-serif" font-weight="bold" font-size="32.6" fill="#e8344c" stroke="#e8344c" stroke-width="0.7">TB</text>
<text transform="translate(1356.47 1532.80) scale(0.8023 1)" font-family="Liberation Sans, sans-serif" font-weight="bold" font-size="38.4" fill="#0093d5" >World</text>
<text transform="translate(1454.85 1532.80) scale(0.8371 1)" font-family="Liberation Sans, sans-serif" font-weight="bold" font-size="38.4" fill="#0093d5" >Health</text>
<text transform="translate(1357.29 1567.80) scale(0.8343 1)" font-family="Liberation Sans, sans-serif" font-weight="bold" font-size="38.4" fill="#0093d5" >Organization</text>
<g fill="none" stroke="#0093d5"><circle cx="1292.5" cy="1533.9" r="36.7" stroke-width="1.7"/><circle cx="1292.5" cy="1533.9" r="29.3" stroke-width="1.15"/><circle cx="1292.5" cy="1533.9" r="21.8" stroke-width="1.15"/><circle cx="1292.5" cy="1533.9" r="14.3" stroke-width="1.15"/><line x1="1255.8" y1="1533.9" x2="1329.2" y2="1533.9" stroke-width="1.4"/><line x1="1266.5" y1="1507.9" x2="1318.5" y2="1559.9" stroke-width="1.15"/><line x1="1318.5" y1="1507.9" x2="1266.5" y2="1559.9" stroke-width="1.15"/><path d="M1259.2 1542.2l4-1 3 1.6 2.6-3.6 4.2-1.4 3 2 1.2 4.4 1.6 5-2 4.2-4.2 1.4-3.2-3-3.6-1.2-3.4-4.8zM1297.6 1528.2l2.8-2.4 3.8 0.6 3-1.6 2.8 2 1 4-2.4 2.8 1.4 3.4-2 3.2-3.6 2.4 1.8 3.8-0.8 5.2-2.2 4-3.4 3-3.2 0.4-1-4.2 1.6-4.2-1.4-3.8-0.6-3.6 0.4-5.6 1.2-3.4 0.2-3.2zM1275.6 1531.4l3.2-3.8 2.6 1.2-0.8 3.8-3 2.4zM1308.6 1507.2l2 1.4 3.4 6.4 1.8 5.2-1.4 0.6-4-6-2.4-5z" fill="#0093d5" stroke="none"/><path d="M1289.4 1492.5Q1289.4 1488.6 1292.5 1488.6Q1295.6 1488.6 1295.6 1492.5L1293.7 1567.5Q1292.5 1569 1291.3 1567.5Z" fill="#0093d5" stroke="#fff" stroke-width="0.8"/><path d="M1278.4 1510.8C1281 1506 1286 1503.8 1292 1503.6C1299.5 1503.4 1304.6 1506.8 1304.6 1511C1304.6 1516 1298.6 1519.2 1292.5 1521.6C1286.4 1524 1283 1526.4 1283.2 1530C1283.4 1533.8 1288 1536 1292.5 1538C1297 1540 1300.2 1541.4 1300 1544C1299.8 1546.6 1296.4 1547.8 1292.5 1548.8C1290.4 1549.4 1288.8 1550 1288.4 1551.2" stroke="#fff" stroke-width="5.6" stroke-linecap="round" stroke-linejoin="round"/><path d="M1278.4 1510.8C1281 1506 1286 1503.8 1292 1503.6C1299.5 1503.4 1304.6 1506.8 1304.6 1511C1304.6 1516 1298.6 1519.2 1292.5 1521.6C1286.4 1524 1283 1526.4 1283.2 1530C1283.4 1533.8 1288 1536 1292.5 1538C1297 1540 1300.2 1541.4 1300 1544C1299.8 1546.6 1296.4 1547.8 1292.5 1548.8C1290.4 1549.4 1288.8 1550 1288.4 1551.2" stroke-width="3.9" stroke-linecap="round" stroke-linejoin="round"/><path d="M1291.4 1522L1293.6 1522L1293.5 1537L1291.5 1537Z" fill="#0093d5" stroke="none"/><path d="M1277.0 1576.7Q1268.3 1571.5 1258.0 1577.1Q1268.4 1579.5 1277.0 1576.7ZM1275.1 1579.7Q1272.3 1572.1 1264.4 1566.5Q1266.1 1577.2 1275.1 1579.7ZM1266.7 1571.0Q1259.8 1563.7 1248.3 1566.3Q1257.8 1571.4 1266.7 1571.0ZM1264.2 1573.4Q1263.5 1565.4 1257.4 1557.8Q1256.2 1568.5 1264.2 1573.4ZM1258.4 1562.8Q1253.7 1553.8 1241.9 1553.3Q1249.7 1560.7 1258.4 1562.8ZM1255.3 1564.4Q1256.8 1556.4 1252.9 1547.6Q1248.9 1557.6 1255.3 1564.4ZM1252.5 1552.6Q1250.4 1542.7 1239.2 1539.0Q1244.7 1548.3 1252.5 1552.6ZM1249.1 1553.3Q1252.7 1546.0 1251.3 1536.4Q1244.7 1545.0 1249.1 1553.3ZM1249.6 1541.1Q1250.1 1531.0 1240.3 1524.5Q1243.1 1534.9 1249.6 1541.1ZM1246.1 1540.9Q1251.4 1534.9 1252.7 1525.3Q1244.1 1531.8 1246.1 1540.9ZM1249.7 1529.3Q1253.0 1519.8 1245.3 1510.9Q1245.2 1521.6 1249.7 1529.3ZM1246.4 1528.2Q1253.2 1523.8 1257.0 1514.9Q1247.0 1518.9 1246.4 1528.2ZM1253.0 1518.0Q1258.7 1509.7 1253.7 1499.0Q1250.7 1509.4 1253.0 1518.0ZM1250.1 1516.0Q1257.8 1513.6 1263.9 1506.0Q1253.1 1507.2 1250.1 1516.0ZM1258.5 1507.7Q1267.2 1502.5 1267.0 1490.7Q1260.0 1498.9 1258.5 1507.7ZM1256.9 1505.3Q1265.0 1505.1 1272.8 1499.4Q1262.2 1497.6 1256.9 1505.3ZM1308.0 1576.7Q1316.7 1571.5 1327.0 1577.1Q1316.6 1579.5 1308.0 1576.7ZM1309.9 1579.7Q1312.7 1572.1 1320.6 1566.5Q1318.9 1577.2 1309.9 1579.7ZM1318.3 1571.0Q1325.2 1563.7 1336.7 1566.3Q1327.2 1571.4 1318.3 1571.0ZM1320.8 1573.4Q1321.5 1565.4 1327.6 1557.8Q1328.8 1568.5 1320.8 1573.4ZM1326.6 1562.8Q1331.3 1553.8 1343.1 1553.3Q1335.3 1560.7 1326.6 1562.8ZM1329.7 1564.4Q1328.2 1556.4 1332.1 1547.6Q1336.1 1557.6 1329.7 1564.4ZM1332.5 1552.6Q1334.6 1542.7 1345.8 1539.0Q1340.3 1548.3 1332.5 1552.6ZM1335.9 1553.3Q1332.3 1546.0 1333.7 1536.4Q1340.3 1545.0 1335.9 1553.3ZM1335.4 1541.1Q1334.9 1531.0 1344.7 1524.5Q1341.9 1534.9 1335.4 1541.1ZM1338.9 1540.9Q1333.6 1534.9 1332.3 1525.3Q1340.9 1531.8 1338.9 1540.9ZM1335.3 1529.3Q1332.0 1519.8 1339.7 1510.9Q1339.8 1521.6 1335.3 1529.3ZM1338.6 1528.2Q1331.8 1523.8 1328.0 1514.9Q1338.0 1518.9 1338.6 1528.2ZM1332.0 1518.0Q1326.3 1509.7 1331.3 1499.0Q1334.3 1509.4 1332.0 1518.0ZM1334.9 1516.0Q1327.2 1513.6 1321.1 1506.0Q1331.9 1507.2 1334.9 1516.0ZM1326.5 1507.7Q1317.8 1502.5 1318.0 1490.7Q1325.0 1498.9 1326.5 1507.7ZM1328.1 1505.3Q1320.0 1505.1 1312.2 1499.4Q1322.8 1497.6 1328.1 1505.3Z" fill="#0093d5" stroke="none"/><path d="M1258.5 1576.2C1270 1581.5 1283 1580.5 1292.5 1575.5C1302 1580.5 1315 1581.5 1326.5 1576.2" stroke-width="2.6" stroke-linecap="round"/><path d="M1281 1584.6C1284 1580.5 1288 1577.5 1292.5 1575.5C1297 1577.5 1301 1580.5 1304 1584.6" stroke-width="2" stroke-linecap="round"/></g>
</svg></body></html>
